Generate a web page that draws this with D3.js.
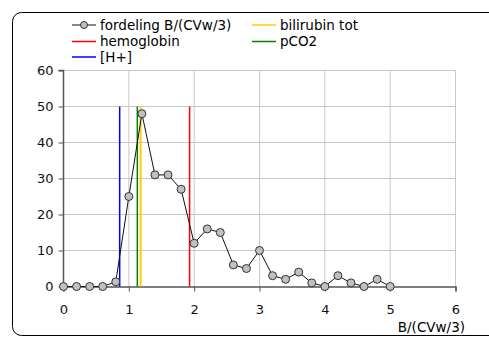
<!DOCTYPE html>
<html><head><meta charset="utf-8">
<script src="https://cdn.jsdelivr.net/npm/d3@7"></script>
<style>body{margin:0;background:#fff}svg{display:block}</style>
</head><body><svg id="c" width="489" height="338"></svg>
<script>
const xValues = [0,0.2,0.4,0.6,0.8,1.0,1.2,1.4,1.6,1.8,2.0,2.2,2.4,2.6,2.8,3.0,3.2,3.4,3.6,3.8,4.0,4.2,4.4,4.6,4.8,5.0];
const yValues = [0,0,0,0,1.3,25,48,31,31,27,12,16,15,6,5,10,3,2,4,1,0,3,1,0,2,0];
const refNames = ["hemoglobin","[H+]","bilirubin tot","pCO2"];
const refX = [1.93,0.86,1.18,1.13];
const refColors = ["#ff0000","#0000ff","#ffcc00","#008000"];
const refHeight = 50;
const xTicks = [0,1,2,3,4,5,6];
const yTicks = [0,10,20,30,40,50,60];
const seriesName = "fordeling B/(CVw/3)";
const xTitle = "B/(CVw/3)";

const svg = d3.select("#c");
const tickFont = "DejaVu Sans, Verdana, sans-serif";
const labelFont = "'DejaVu Sans', sans-serif";

svg.append("rect").attr("x",12.5).attr("y",12.5).attr("width",490).attr("height",323)
  .attr("rx",9).attr("fill","none").attr("stroke","#000").attr("stroke-width",1);

const x = d3.scaleLinear().domain([0,6]).range([63.5,455.5]);
const y = d3.scaleLinear().domain([0,60]).range([286.5,70.5]);

const g = svg.append("g");
g.selectAll(".gx").data(xTicks.slice(1)).join("line")
  .attr("x1",d=>x(d)).attr("x2",d=>x(d)).attr("y1",y(0)).attr("y2",y(60))
  .attr("stroke","#c8c8c8");
g.selectAll(".gy").data(yTicks.slice(1)).join("line")
  .attr("x1",x(0)).attr("x2",x(6)).attr("y1",d=>y(d)).attr("y2",d=>y(d))
  .attr("stroke","#c8c8c8");

const xa = svg.append("g").attr("transform",`translate(0,${y(0)})`)
  .call(d3.axisBottom(x).tickValues(xTicks).tickSize(5).tickPadding(13).tickFormat(d3.format("d")));
const ya = svg.append("g").attr("transform",`translate(${x(0)},0)`)
  .call(d3.axisLeft(y).tickValues(yTicks).tickSize(5).tickPadding(5).tickFormat(d3.format("d")));
[xa,ya].forEach(a=>{
  a.select(".domain").attr("stroke","#555").attr("stroke-width",1.5);
  a.selectAll(".tick line").attr("stroke","#555");
  a.selectAll("text").attr("font-family",tickFont).attr("font-size",13).attr("fill","#111");
});
ya.select(".domain").attr("d",`M-5,${y(60)}H0V${y(0)}`);

svg.append("g").selectAll("line").data(refX).join("line")
  .attr("x1",d=>x(d)).attr("x2",d=>x(d)).attr("y1",y(0)).attr("y2",y(refHeight))
  .attr("stroke",(d,i)=>refColors[i]).attr("stroke-width",(d,i)=>i===2?2:1.5);

const pts = xValues.map((v,i)=>[v,yValues[i]]);
svg.append("path").datum(pts).attr("fill","none").attr("stroke","#111").attr("stroke-width",1)
  .attr("d",d3.line().x(d=>x(d[0])).y(d=>y(d[1])));
svg.append("g").selectAll("circle").data(pts).join("circle")
  .attr("cx",d=>x(d[0])).attr("cy",d=>y(d[1])).attr("r",4)
  .attr("fill","#c0c0c0").attr("stroke","#333").attr("stroke-width",1);

const leg = svg.append("g").attr("font-family",labelFont).attr("font-size",13.5);
const items = [
  {name:seriesName,color:"#111",marker:true,col:0,row:0},
  {name:refNames[2],color:refColors[2],col:1,row:0},
  {name:refNames[0],color:refColors[0],col:0,row:1},
  {name:refNames[3],color:refColors[3],col:1,row:1},
  {name:refNames[1],color:refColors[1],col:0,row:2}
];
const colX=[72,252], rowY=[25,41.5,57];
items.forEach(it=>{
  const gx=colX[it.col], gy=rowY[it.row];
  leg.append("line").attr("x1",gx).attr("x2",gx+24).attr("y1",gy).attr("y2",gy)
    .attr("stroke",it.color).attr("stroke-width",it.marker?1:1.5);
  if(it.marker) leg.append("circle").attr("cx",gx+12).attr("cy",gy).attr("r",3.5)
    .attr("fill","#c0c0c0").attr("stroke","#333");
  leg.append("text").attr("x",gx+28).attr("y",gy).attr("dy","0.35em").text(it.name);
});
svg.append("text").attr("x",465).attr("y",332).attr("text-anchor","end")
  .attr("font-family",labelFont).attr("font-size",13.5).text(xTitle);
</script></body></html>
